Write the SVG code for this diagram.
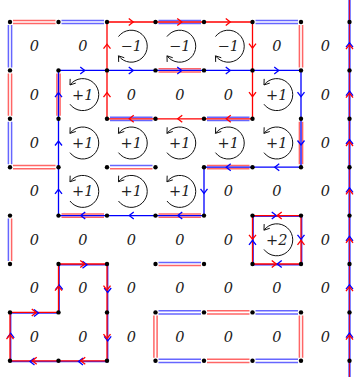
<svg xmlns="http://www.w3.org/2000/svg" xmlns:xlink="http://www.w3.org/1999/xlink" width="354" height="377" viewBox="0 0 354 377">
<style>
.rd{fill:none;stroke:#ff0000;stroke-opacity:.6;stroke-width:1.5}
.bd{fill:none;stroke:#0000ff;stroke-opacity:.6;stroke-width:1.5}
.rs{fill:none;stroke:#ff0000;stroke-width:1.3}
.bs{fill:none;stroke:#0000ff;stroke-width:1.3}
.bw{fill:none;stroke:#3030ff;stroke-width:1.4}
.ra{fill:none;stroke:#ff0000;stroke-width:1.3}
.ba{fill:none;stroke:#0000ff;stroke-width:1.3}
.ka{fill:none;stroke:#111;stroke-width:1}
.lbl{font-family:"DejaVu Serif",serif;font-style:italic;font-size:14.5px;fill:#222;text-anchor:middle}
.dot{fill:#000}
</style>
<defs>
<path id="ch" d="M-4.5,-3.5 L0,0 L-4.5,3.5"/>
<g id="cpos" class="ka"><path d="M-12.78,9.63 A16,16 0 1 0 -12.78,-9.63"/><path d="M-6.98,-11.53 L-12.78,-9.63 L-12.58,-15.73"/></g>
<g id="cneg" class="ka"><path d="M-12.78,-9.63 A16,16 0 1 1 -12.78,9.63"/><path d="M-6.98,11.53 L-12.78,9.63 L-12.58,15.73"/></g>
</defs>

<g id="connectors">
<path class="rd" d="M13,20.4H55.5M13,23.6H55.5 M8.4,73.4V115.8M11.6,73.4V115.8 M299.4,25V67.4M302.6,25V67.4 M13,165.6H55.5M13,168.8H55.5 M207,310.8H249.5M207,314H249.5 M153.9,315.4V357.8M157.1,315.4V357.8 M299.4,315.4V357.8M302.6,315.4V357.8 M207,359.2H249.5M207,362.4H249.5 M56.9,73.4V115.8M60.1,73.4V115.8 M158.5,68.8H201M158.5,72H201 M299.4,121.8V164.2M302.6,121.8V164.2 M207,165.6H249.5M207,168.8H249.5 M61.5,214H104M61.5,217.2H104 M158.5,214H201M158.5,217.2H201"/>
<path class="bd" d="M61.5,20.4H104M61.5,23.6H104 M255.5,20.4H298M255.5,23.6H298 M8.4,25V67.4M11.6,25V67.4 M8.4,121.8V164.2M11.6,121.8V164.2 M158.5,310.8H201M158.5,314H201 M255.5,310.8H298M255.5,314H298 M158.5,359.2H201M158.5,362.4H201 M255.5,359.2H298M255.5,362.4H298 M158.5,20.4H201M158.5,23.6H201 M110,117.2H152.5M110,120.4H152.5 M207,117.2H249.5M207,120.4H249.5"/>
<path class="bd" d="M8.4,218.6V261 M110,165.6H152.5 M158.5,262.4H201"/>
<path class="rd" d="M11.6,218.6V261 M110,168.8H152.5 M158.5,265.6H201"/>

<path class="rs" d="M107,22H252.5V118.8H107Z"/>
<path class="bs" d="M58.5,70.4H301V167.2H204V215.6H58.5Z"/>
<path class="bw" transform="translate(0.7,0.7)" d="M10,360.8V312.4H58.5V264H107V360.8Z"/>
<path class="rs" d="M10,360.8V312.4H58.5V264H107V360.8Z"/>
<path class="bw" transform="translate(0.7,0.7)" d="M252.5,215.6H301V264H252.5Z"/>
<path class="rs" d="M252.5,215.6H301V264H252.5Z"/>
<path class="bw" d="M349.5,0V377" style="stroke-width:2.2"/>
<path class="rs" d="M349.5,0V377" style="stroke-width:0.8"/>

<use href="#ch" class="ra" transform="translate(133.25,22)"/>
<use href="#ch" class="ra" transform="translate(181.75,22)"/>
<use href="#ch" class="ra" transform="translate(230.25,22)"/>
<use href="#ch" class="ra" transform="translate(107,44.2) rotate(-90)"/>
<use href="#ch" class="ra" transform="translate(107,92.6) rotate(-90)"/>
<use href="#ch" class="ra" transform="translate(252.5,48.2) rotate(90)"/>
<use href="#ch" class="ra" transform="translate(252.5,96.6) rotate(90)"/>
<use href="#ch" class="ra" transform="translate(129.25,118.8) rotate(180)"/>
<use href="#ch" class="ra" transform="translate(177.75,118.8) rotate(180)"/>
<use href="#ch" class="ra" transform="translate(226.25,118.8) rotate(180)"/>

<use href="#ch" class="ba" transform="translate(84.75,70.4)"/>
<use href="#ch" class="ba" transform="translate(133.25,70.4)"/>
<use href="#ch" class="ba" transform="translate(181.75,70.4)"/>
<use href="#ch" class="ba" transform="translate(230.25,70.4)"/>
<use href="#ch" class="ba" transform="translate(278.75,70.4)"/>
<use href="#ch" class="ba" transform="translate(301,96.6) rotate(90)"/>
<use href="#ch" class="ba" transform="translate(301,145) rotate(90)"/>
<use href="#ch" class="ba" transform="translate(274.75,167.2) rotate(180)"/>
<use href="#ch" class="ba" transform="translate(226.25,167.2) rotate(180)"/>
<use href="#ch" class="ba" transform="translate(204,193.4) rotate(90)"/>
<use href="#ch" class="ba" transform="translate(177.75,215.6) rotate(180)"/>
<use href="#ch" class="ba" transform="translate(129.25,215.6) rotate(180)"/>
<use href="#ch" class="ba" transform="translate(80.75,215.6) rotate(180)"/>
<use href="#ch" class="ba" transform="translate(58.5,189.4) rotate(-90)"/>
<use href="#ch" class="ba" transform="translate(58.5,141) rotate(-90)"/>
<use href="#ch" class="ba" transform="translate(58.5,92.6) rotate(-90)"/>

<use href="#ch" class="ba" transform="translate(10.7,333.4) rotate(-90)"/>
<use href="#ch" class="ra" transform="translate(10,334.6) rotate(-90)"/>
<use href="#ch" class="ba" transform="translate(38.5,313.1)"/>
<use href="#ch" class="ra" transform="translate(36.25,312.4)"/>
<use href="#ch" class="ba" transform="translate(59.2,285) rotate(-90)"/>
<use href="#ch" class="ra" transform="translate(58.5,286.2) rotate(-90)"/>
<use href="#ch" class="ba" transform="translate(87,264.7)"/>
<use href="#ch" class="ra" transform="translate(84.75,264)"/>
<use href="#ch" class="ba" transform="translate(107.7,292.5) rotate(90)"/>
<use href="#ch" class="ra" transform="translate(107,290.2) rotate(90)"/>
<use href="#ch" class="ba" transform="translate(107.7,340.9) rotate(90)"/>
<use href="#ch" class="ra" transform="translate(107,338.6) rotate(90)"/>
<use href="#ch" class="ba" transform="translate(78.5,361.5) rotate(180)"/>
<use href="#ch" class="ra" transform="translate(80.75,360.8) rotate(180)"/>
<use href="#ch" class="ba" transform="translate(30,361.5) rotate(180)"/>
<use href="#ch" class="ra" transform="translate(32.25,360.8) rotate(180)"/>

<use href="#ch" class="ba" transform="translate(276.25,215.6)"/>
<use href="#ch" class="ra" transform="translate(277.25,215.6) rotate(180)"/>
<use href="#ch" class="ra" transform="translate(276.25,264)"/>
<use href="#ch" class="ba" transform="translate(277.25,264) rotate(180)"/>
<use href="#ch" class="ra" transform="translate(252.5,239.3) rotate(90)"/>
<use href="#ch" class="ba" transform="translate(252.5,240.3) rotate(-90)"/>
<use href="#ch" class="ba" transform="translate(301,239.3) rotate(90)"/>
<use href="#ch" class="ra" transform="translate(301,240.3) rotate(-90)"/>

<use href="#ch" class="ba" transform="translate(349.5,42.7) rotate(-90)"/>
<use href="#ch" class="ra" transform="translate(349.5,44.7) rotate(-90)"/>
<use href="#ch" class="ba" transform="translate(349.5,91.1) rotate(-90)"/>
<use href="#ch" class="ra" transform="translate(349.5,93.1) rotate(-90)"/>
<use href="#ch" class="ba" transform="translate(349.5,139.5) rotate(-90)"/>
<use href="#ch" class="ra" transform="translate(349.5,141.5) rotate(-90)"/>
<use href="#ch" class="ba" transform="translate(349.5,187.9) rotate(-90)"/>
<use href="#ch" class="ra" transform="translate(349.5,189.9) rotate(-90)"/>
<use href="#ch" class="ba" transform="translate(349.5,236.3) rotate(-90)"/>
<use href="#ch" class="ra" transform="translate(349.5,238.3) rotate(-90)"/>
<use href="#ch" class="ba" transform="translate(349.5,284.7) rotate(-90)"/>
<use href="#ch" class="ra" transform="translate(349.5,286.7) rotate(-90)"/>
<use href="#ch" class="ba" transform="translate(349.5,333.1) rotate(-90)"/>
<use href="#ch" class="ra" transform="translate(349.5,335.1) rotate(-90)"/>
</g>

<g id="dots" class="dot">
<circle cx="10" cy="22" r="2.2"/><circle cx="58.5" cy="22" r="2.2"/><circle cx="107" cy="22" r="2.2"/><circle cx="155.5" cy="22" r="2.2"/><circle cx="204" cy="22" r="2.2"/><circle cx="252.5" cy="22" r="2.2"/><circle cx="301" cy="22" r="2.2"/><circle cx="349.5" cy="22" r="2.2"/>
<circle cx="10" cy="70.4" r="2.2"/><circle cx="58.5" cy="70.4" r="2.2"/><circle cx="107" cy="70.4" r="2.2"/><circle cx="155.5" cy="70.4" r="2.2"/><circle cx="204" cy="70.4" r="2.2"/><circle cx="252.5" cy="70.4" r="2.2"/><circle cx="301" cy="70.4" r="2.2"/><circle cx="349.5" cy="70.4" r="2.2"/>
<circle cx="10" cy="118.8" r="2.2"/><circle cx="58.5" cy="118.8" r="2.2"/><circle cx="107" cy="118.8" r="2.2"/><circle cx="155.5" cy="118.8" r="2.2"/><circle cx="204" cy="118.8" r="2.2"/><circle cx="252.5" cy="118.8" r="2.2"/><circle cx="301" cy="118.8" r="2.2"/><circle cx="349.5" cy="118.8" r="2.2"/>
<circle cx="10" cy="167.2" r="2.2"/><circle cx="58.5" cy="167.2" r="2.2"/><circle cx="107" cy="167.2" r="2.2"/><circle cx="155.5" cy="167.2" r="2.2"/><circle cx="204" cy="167.2" r="2.2"/><circle cx="252.5" cy="167.2" r="2.2"/><circle cx="301" cy="167.2" r="2.2"/><circle cx="349.5" cy="167.2" r="2.2"/>
<circle cx="10" cy="215.6" r="2.2"/><circle cx="58.5" cy="215.6" r="2.2"/><circle cx="107" cy="215.6" r="2.2"/><circle cx="155.5" cy="215.6" r="2.2"/><circle cx="204" cy="215.6" r="2.2"/><circle cx="252.5" cy="215.6" r="2.2"/><circle cx="301" cy="215.6" r="2.2"/><circle cx="349.5" cy="215.6" r="2.2"/>
<circle cx="10" cy="264" r="2.2"/><circle cx="58.5" cy="264" r="2.2"/><circle cx="107" cy="264" r="2.2"/><circle cx="155.5" cy="264" r="2.2"/><circle cx="204" cy="264" r="2.2"/><circle cx="252.5" cy="264" r="2.2"/><circle cx="301" cy="264" r="2.2"/><circle cx="349.5" cy="264" r="2.2"/>
<circle cx="10" cy="312.4" r="2.2"/><circle cx="58.5" cy="312.4" r="2.2"/><circle cx="107" cy="312.4" r="2.2"/><circle cx="155.5" cy="312.4" r="2.2"/><circle cx="204" cy="312.4" r="2.2"/><circle cx="252.5" cy="312.4" r="2.2"/><circle cx="301" cy="312.4" r="2.2"/><circle cx="349.5" cy="312.4" r="2.2"/>
<circle cx="10" cy="360.8" r="2.2"/><circle cx="58.5" cy="360.8" r="2.2"/><circle cx="107" cy="360.8" r="2.2"/><circle cx="155.5" cy="360.8" r="2.2"/><circle cx="204" cy="360.8" r="2.2"/><circle cx="252.5" cy="360.8" r="2.2"/><circle cx="301" cy="360.8" r="2.2"/><circle cx="349.5" cy="360.8" r="2.2"/>
</g>

<g id="circulations">
<use href="#cneg" x="131.25" y="46.2"/><use href="#cneg" x="179.75" y="46.2"/><use href="#cneg" x="228.25" y="46.2"/>
<use href="#cpos" x="82.75" y="94.6"/><use href="#cpos" x="276.75" y="94.6"/>
<use href="#cpos" x="82.75" y="143"/><use href="#cpos" x="131.25" y="143"/><use href="#cpos" x="179.75" y="143"/><use href="#cpos" x="228.25" y="143"/><use href="#cpos" x="276.75" y="143"/>
<use href="#cpos" x="82.75" y="191.4"/><use href="#cpos" x="131.25" y="191.4"/><use href="#cpos" x="179.75" y="191.4"/>
<use href="#cpos" x="276.75" y="239.8"/>
</g>

<g id="labels" class="lbl">
<text x="34.25" y="51.2">0</text><text x="82.75" y="51.2">0</text><text x="131.25" y="51.2">−1</text><text x="179.75" y="51.2">−1</text><text x="228.25" y="51.2">−1</text><text x="276.75" y="51.2">0</text><text x="325.25" y="51.2">0</text>
<text x="34.25" y="99.6">0</text><text x="82.75" y="99.6">+1</text><text x="131.25" y="99.6">0</text><text x="179.75" y="99.6">0</text><text x="228.25" y="99.6">0</text><text x="276.75" y="99.6">+1</text><text x="325.25" y="99.6">0</text>
<text x="34.25" y="148">0</text><text x="82.75" y="148">+1</text><text x="131.25" y="148">+1</text><text x="179.75" y="148">+1</text><text x="228.25" y="148">+1</text><text x="276.75" y="148">+1</text><text x="325.25" y="148">0</text>
<text x="34.25" y="196.4">0</text><text x="82.75" y="196.4">+1</text><text x="131.25" y="196.4">+1</text><text x="179.75" y="196.4">+1</text><text x="228.25" y="196.4">0</text><text x="276.75" y="196.4">0</text><text x="325.25" y="196.4">0</text>
<text x="34.25" y="244.8">0</text><text x="82.75" y="244.8">0</text><text x="131.25" y="244.8">0</text><text x="179.75" y="244.8">0</text><text x="228.25" y="244.8">0</text><text x="276.75" y="244.8">+2</text><text x="325.25" y="244.8">0</text>
<text x="34.25" y="293.2">0</text><text x="82.75" y="293.2">0</text><text x="131.25" y="293.2">0</text><text x="179.75" y="293.2">0</text><text x="228.25" y="293.2">0</text><text x="276.75" y="293.2">0</text><text x="325.25" y="293.2">0</text>
<text x="34.25" y="341.6">0</text><text x="82.75" y="341.6">0</text><text x="131.25" y="341.6">0</text><text x="179.75" y="341.6">0</text><text x="228.25" y="341.6">0</text><text x="276.75" y="341.6">0</text><text x="325.25" y="341.6">0</text>
</g>
</svg>
